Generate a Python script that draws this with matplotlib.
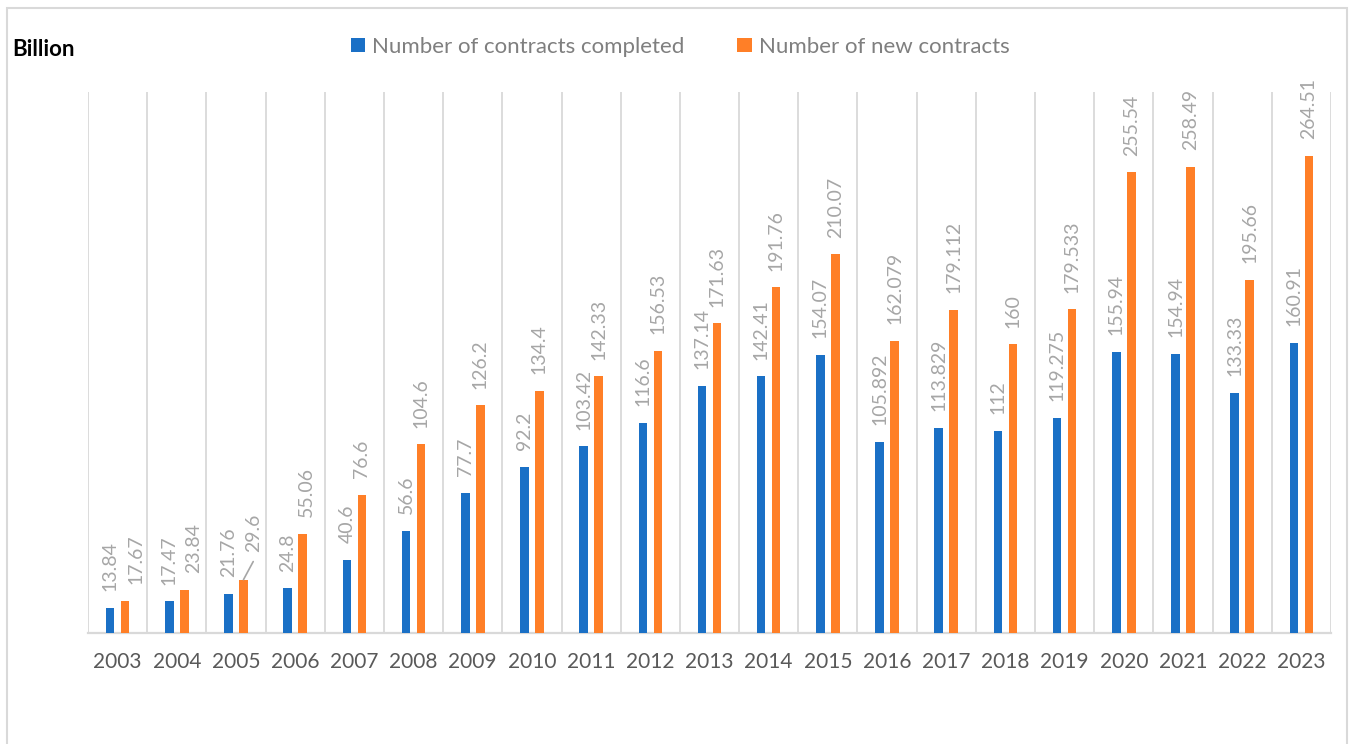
import numpy as np
import matplotlib
matplotlib.use("Agg")
import matplotlib.pyplot as plt
from matplotlib.patches import Rectangle

plt.rcParams['font.family'] = ['Lato', 'DejaVu Sans']

years = [str(y) for y in range(2003, 2024)]
completed = [13.84, 17.47, 21.76, 24.8, 40.6, 56.6, 77.7, 92.2, 103.42, 116.6,
             137.14, 142.41, 154.07, 105.892, 113.829, 112, 119.275, 155.94,
             154.94, 133.33, 160.91]
new_contracts = [17.67, 23.84, 29.6, 55.06, 76.6, 104.6, 126.2, 134.4, 142.33,
                 156.53, 171.63, 191.76, 210.07, 162.079, 179.112, 160, 179.533,
                 255.54, 258.49, 195.66, 264.51]
completed_lbl = ["13.84", "17.47", "21.76", "24.8", "40.6", "56.6", "77.7", "92.2",
                 "103.42", "116.6", "137.14", "142.41", "154.07", "105.892",
                 "113.829", "112", "119.275", "155.94", "154.94", "133.33", "160.91"]
new_lbl = ["17.67", "23.84", "29.6", "55.06", "76.6", "104.6", "126.2", "134.4",
           "142.33", "156.53", "171.63", "191.76", "210.07", "162.079", "179.112",
           "160", "179.533", "255.54", "258.49", "195.66", "264.51"]

BLUE = "#1A70C6"
ORANGE = "#FF7F27"
GRID = "#D9D9D9"
LBL = "#A6A6A6"

# label nudges (points) where Excel moved labels apart
nudge_new = {0: 8, 1: 7, 3: 3}

fig = plt.figure(figsize=(13.5, 7.44), dpi=100)
ax = fig.add_axes([88 / 1350, 1 - 633 / 744, (1331 - 88) / 1350, (633 - 92) / 744])

x = np.arange(len(years))
w = 0.145
off = 0.127
b1 = ax.bar(x - off, completed, w, color=BLUE, label="Number of contracts completed", zorder=3)
b2 = ax.bar(x + off, new_contracts, w, color=ORANGE, label="Number of new contracts", zorder=3)

ax.set_xlim(-0.5, len(years) - 0.5)
ax.set_ylim(0, 300)

# vertical separators between categories
for b in np.arange(-0.5, len(years), 1.0):
    ax.axvline(b, color=GRID, lw=1.3, zorder=1)

for s in ["top", "right", "left"]:
    ax.spines[s].set_visible(False)
ax.spines["bottom"].set_color(GRID)
ax.spines["bottom"].set_linewidth(1.6)
ax.set_yticks([])
ax.set_xticks(x)
ax.set_xticklabels(years, fontsize=15, color="#595959")
ax.tick_params(axis="x", length=0, pad=14)

# data labels
for i in range(len(years)):
    ax.annotate(completed_lbl[i], (x[i] - off, completed[i]), xytext=(0, 12),
                textcoords="offset points", rotation=90, ha="center", va="bottom",
                fontsize=14, color=LBL)
    if new_lbl[i] == "29.6":
        ax.annotate("", (x[i] + off, new_contracts[i]), xytext=(7, 13),
                    textcoords="offset points",
                    arrowprops=dict(arrowstyle="-", color=LBL, lw=1.2,
                                    shrinkA=0, shrinkB=0))
        ax.annotate(new_lbl[i], (x[i] + off, new_contracts[i]), xytext=(7, 20),
                    textcoords="offset points", rotation=90, ha="center", va="bottom",
                    fontsize=14, color=LBL)
    else:
        ax.annotate(new_lbl[i], (x[i] + off, new_contracts[i]),
                    xytext=(nudge_new.get(i, 0), 12),
                    textcoords="offset points", rotation=90, ha="center", va="bottom",
                    fontsize=14, color=LBL)

fig.legend(handles=[b1, b2], loc="center", bbox_to_anchor=(680 / 1350, 1 - 47 / 744),
           ncol=2, frameon=False, fontsize=16, labelcolor="#7F7F7F",
           handlelength=0.65, handleheight=0.6, handletextpad=0.3, columnspacing=2.4)

fig.text(12 / 1350, 1 - 50 / 744, "Billion", fontsize=16, fontweight="bold",
         color="black", ha="left", va="center")

fig.patches.append(Rectangle((7 / 1350, -0.01), (1347 - 7) / 1350, 1 - 8 / 744 + 0.01,
                             transform=fig.transFigure, fill=False, edgecolor=GRID, lw=1.5))

fig.savefig("out.png", dpi=100)
